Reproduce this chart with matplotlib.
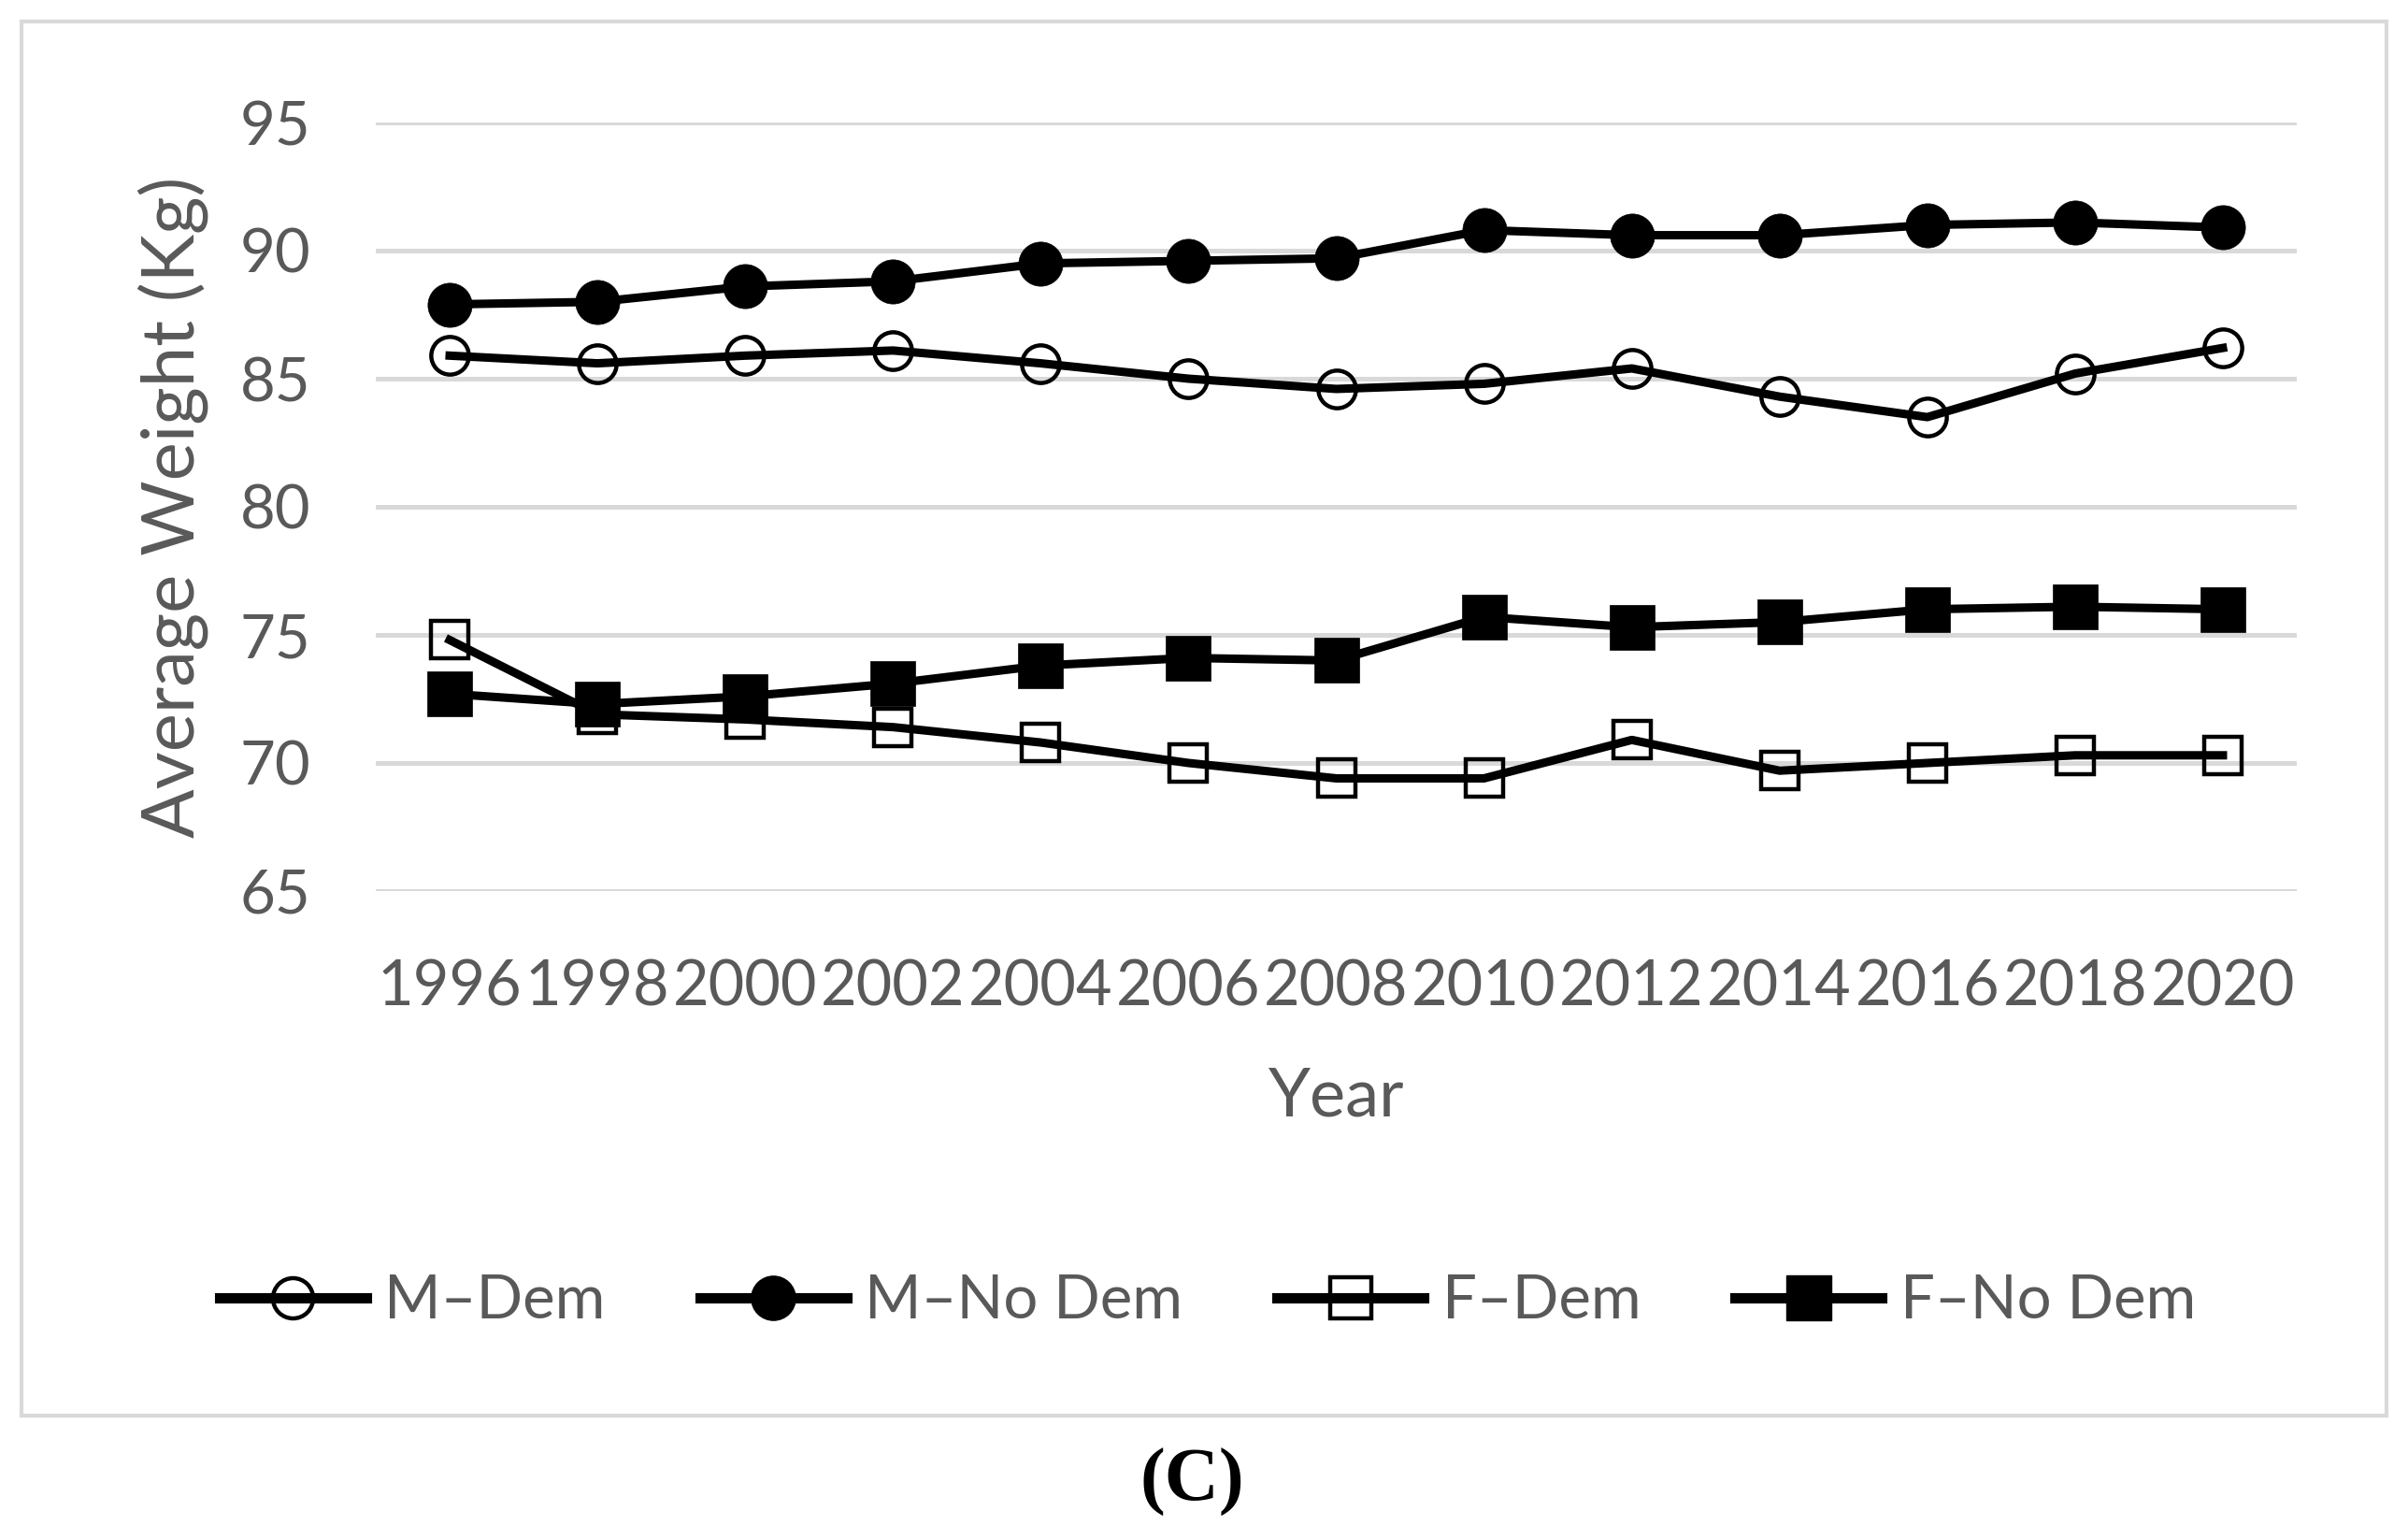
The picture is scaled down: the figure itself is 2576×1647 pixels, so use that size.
import matplotlib
matplotlib.use("Agg")
import matplotlib.pyplot as plt
from matplotlib.lines import Line2D
from matplotlib.patches import Rectangle

# values (kg)
years = ["1996", "1998", "2000", "2002", "2004", "2006", "2008",
         "2010", "2012", "2014", "2016", "2018", "2020"]
m_dem = [85.9, 85.6, 85.9, 86.1, 85.6, 85.0, 84.6, 84.8, 85.4, 84.3, 83.5, 85.2, 86.2]
m_nodem = [87.9, 88.0, 88.6, 88.8, 89.5, 89.6, 89.7, 90.8, 90.6, 90.6, 91.0, 91.1, 90.9]
f_dem = [74.8, 71.9, 71.7, 71.4, 70.8, 70.0, 69.4, 69.4, 70.9, 69.7, 70.0, 70.3, 70.3]
f_nodem = [72.7, 72.3, 72.6, 73.1, 73.8, 74.1, 74.0, 75.7, 75.3, 75.5, 76.0, 76.1, 76.0]
labels = ["M\u2013Dem", "M\u2013No Dem", "F\u2013Dem", "F\u2013No Dem"]
yticks = [65, 70, 75, 80, 85, 90, 95]

plt.rcParams['font.family'] = ['Lato', 'DejaVu Sans']
grey = '#595959'

W, H = 2576, 1647
fig = plt.figure(figsize=(W / 100, H / 100), dpi=100)
fig.patch.set_facecolor('white')

# outer chart frame
fig.patches.append(Rectangle((23 / W, 1 - 1514 / H), (2553 - 23) / W, (1514 - 23) / H,
                             transform=fig.transFigure, fill=False,
                             edgecolor='#D9D9D9', linewidth=3))

ax = fig.add_axes([402 / W, 1 - 953 / H, (2457 - 402) / W, (953 - 131) / H])
x = list(range(len(years)))

lw = 6.5
ax.plot(x, m_dem, color='black', lw=lw, marker='o', ms=29, mfc='none', mec='black', mew=3.2, zorder=3)
ax.plot(x, m_nodem, color='black', lw=lw, marker='o', ms=34, mfc='black', mec='black', mew=0.5, zorder=3)
ax.plot(x, f_dem, color='black', lw=lw, marker='s', ms=29, mfc='none', mec='black', mew=3.2, zorder=3)
ax.plot(x, f_nodem, color='black', lw=lw, marker='s', ms=34, mfc='black', mec='black', mew=0.5, zorder=3)

ax.set_xlim(-0.5, len(years) - 0.5)
ax.set_ylim(65, 95)
ax.set_yticks(yticks)
ax.set_xticks(x)
ax.set_xticklabels(years)
ax.grid(axis='y', color='#D9D9D9', lw=3.6, zorder=0)
ax.set_axisbelow(True)
for s in ax.spines.values():
    s.set_visible(False)
ax.tick_params(axis='both', length=0, labelsize=47, labelcolor=grey)
ax.tick_params(axis='x', labelsize=48, pad=52)
ax.tick_params(axis='y', pad=50)

ax.set_ylabel("Average Weight (Kg)", fontsize=56, color=grey)
ax.yaxis.set_label_coords(-0.087, 0.5)
ax.set_xlabel("Year", fontsize=52, color=grey, labelpad=38)

handles = [
    Line2D([], [], color='black', lw=8, marker='o', ms=31, mfc='none', mec='black', mew=3.2),
    Line2D([], [], color='black', lw=8, marker='o', ms=34, mfc='black', mec='black'),
    Line2D([], [], color='black', lw=8, marker='s', ms=31, mfc='none', mec='black', mew=3.2),
    Line2D([], [], color='black', lw=8, marker='s', ms=34, mfc='black', mec='black'),
]
leg = fig.legend(handles, labels, loc='center', bbox_to_anchor=(1292 / W, 1 - 1392 / H),
                 ncol=4, frameon=False, fontsize=47, handlelength=2.4,
                 handletextpad=0.3, columnspacing=1.55)
for t in leg.get_texts():
    t.set_color(grey)

fig.text(1275 / W, 1 - 1585 / H, "(C)", ha='center', va='center', fontsize=58,
         fontweight='bold', family=['Liberation Serif', 'DejaVu Serif'], color='black')

fig.savefig("out.png", dpi=100)
